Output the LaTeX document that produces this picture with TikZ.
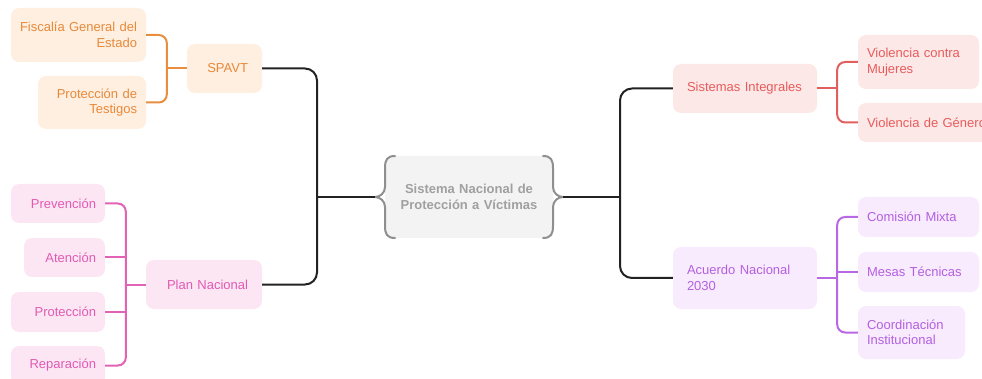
\documentclass[tikz,border=0pt]{standalone}
\usepackage{fontspec}
\setmainfont{Liberation Sans}
\usetikzlibrary{calc}
\definecolor{orT}{HTML}{E8893A}
\definecolor{orF}{HTML}{FEEFE0}
\definecolor{orL}{HTML}{E88E3E}
\definecolor{pkT}{HTML}{E05AB4}
\definecolor{pkF}{HTML}{FDE6F3}
\definecolor{pkL}{HTML}{E262B6}
\definecolor{rdT}{HTML}{E85B5B}
\definecolor{rdF}{HTML}{FDE8E8}
\definecolor{rdL}{HTML}{E35F5F}
\definecolor{puT}{HTML}{B45FE0}
\definecolor{puF}{HTML}{F8EBFD}
\definecolor{puL}{HTML}{B967E4}
\definecolor{gyT}{HTML}{A0A0A0}
\definecolor{gyF}{HTML}{F3F3F3}
\definecolor{gyL}{HTML}{8F8F8F}
\definecolor{blk}{HTML}{222222}
\newcommand{\fs}{\fontsize{13}{15.5}\selectfont}
\begin{document}
\begin{tikzpicture}[x=1pt,y=-1pt,
  box/.style={rounded corners=8pt, inner ysep=0pt, font=\fs, anchor=center},
  lleaf/.style={box, inner xsep=9pt, align=right},
  rleaf/.style={box, inner xsep=9pt, align=left},
  lmain/.style={box, inner xsep=14pt, align=right},
  rmain/.style={box, inner xsep=14pt, align=left},
  orn/.style={fill=orF, text=orT},
  pkn/.style={fill=pkF, text=pkT},
  rdn/.style={fill=rdF, text=rdT},
  pun/.style={fill=puF, text=puT},
  main/.style={draw=blk, line width=2pt, rounded corners=12pt},
  sub/.style={line width=2pt, rounded corners=8pt},
  brace/.style={draw=gyL, line width=2pt, line cap=round}
]
\useasboundingbox (0,0) rectangle (982,379);

% central
\node[box, fill=gyF, text=gyT, align=center, text width=150pt, minimum height=82pt, inner xsep=9pt, font=\fs\bfseries] (cent) at (469,197) {Sistema Nacional de\\Protección a Víctimas};
\begin{scope}[shift={(cent.center)}]
\draw[brace] (-74,-41) .. controls (-82,-41) and (-84,-37) .. (-84,-29) -- (-84,-10) .. controls (-84,-4) and (-89,0) .. (-94,0) .. controls (-89,0) and (-84,4) .. (-84,10) -- (-84,29) .. controls (-84,37) and (-82,41) .. (-74,41);
\draw[brace] (74,-41) .. controls (82,-41) and (84,-37) .. (84,-29) -- (84,-10) .. controls (84,-4) and (89,0) .. (94,0) .. controls (89,0) and (84,4) .. (84,10) -- (84,29) .. controls (84,37) and (82,41) .. (74,41);
\coordinate (cl) at (-94,0);
\coordinate (cr) at (94,0);
\end{scope}
\coordinate (jl) at (317,197);
\coordinate (jr) at (620,197);

% left side
\node[lmain, orn, text width=47pt, minimum height=49pt] (spavt) at (224.5,68.5) {SPAVT};
\node[lleaf, orn, text width=117pt, minimum height=54pt] (fisc) at (78.5,35) {\mbox{Fiscalía General del}\\Estado};
\node[lleaf, orn, text width=90pt, minimum height=53pt] (testigos) at (92,102.5) {Protección de\\Testigos};

\node[lmain, pkn, text width=88pt, minimum height=49pt] (plan) at (204,284.5) {Plan Nacional};
\node[lleaf, pkn, text width=76pt, minimum height=39pt] (prev) at (58,203.5) {Prevención};
\node[lleaf, pkn, text width=63pt, minimum height=39pt] (aten) at (64.5,257.5) {Atención};
\node[lleaf, pkn, text width=76pt, minimum height=40pt] (prot) at (58,312) {Protección};
\node[lleaf, pkn, text width=76pt, minimum height=39pt] (repa) at (58,365.5) {Reparación};

% right side
\node[rmain, rdn, text width=116pt, minimum height=49pt] (sist) at (745,88.5) {Sistemas Integrales};
\node[rleaf, rdn, text width=103pt, minimum height=54pt] (vcm) at (918.5,62) {Violencia contra\\Mujeres};
\node[rleaf, rdn, text width=125pt, minimum height=39pt] (vdg) at (929.5,122.5) {Violencia de Género};

\node[rmain, pun, text width=116pt, minimum height=62pt] (acuerdo) at (745,278) {Acuerdo Nacional\\2030};
\node[rleaf, pun, text width=103pt, minimum height=40pt] (comision) at (918.5,217) {Comisión Mixta};
\node[rleaf, pun, text width=103pt, minimum height=40pt] (mesas) at (918.5,272) {Mesas Técnicas};
\node[rleaf, pun, text width=89pt, minimum height=53pt] (coord) at (911.5,332.5) {Coordinación\\Institucional};

% main connectors
\draw[main] (spavt.east) -| (jl) |- (plan.east);
\draw[main] (cl) -- (jl);
\draw[main] (sist.west) -| (jr) |- (acuerdo.west);
\draw[main] (cr) -- (jr);

% orange
\coordinate (os) at ([xshift=-20pt]spavt.west);
\draw[sub, draw=orL] (fisc.east) -| (os) |- (testigos.east);
\draw[sub, draw=orL] (spavt.west) -- (os);

% pink
\coordinate (ps) at ([xshift=-20pt]plan.west);
\draw[sub, draw=pkL] (prev.east) -| (ps) |- (repa.east);
\draw[sub, draw=pkL] (plan.west) -- (ps);
\draw[sub, draw=pkL] (aten.east) -- (aten.east -| ps);
\draw[sub, draw=pkL] (prot.east) -- (prot.east -| ps);

% red
\coordinate (rs) at ([xshift=20pt]sist.east);
\draw[sub, draw=rdL] (vcm.west) -| (rs) |- (vdg.west);
\draw[sub, draw=rdL] (sist.east) -- (rs);

% purple
\coordinate (us) at ([xshift=20pt]acuerdo.east);
\draw[sub, draw=puL] (comision.west) -| (us) |- (coord.west);
\draw[sub, draw=puL] (acuerdo.east) -- (us);
\draw[sub, draw=puL] (mesas.west) -- (mesas.west -| us);
\end{tikzpicture}
\end{document}
